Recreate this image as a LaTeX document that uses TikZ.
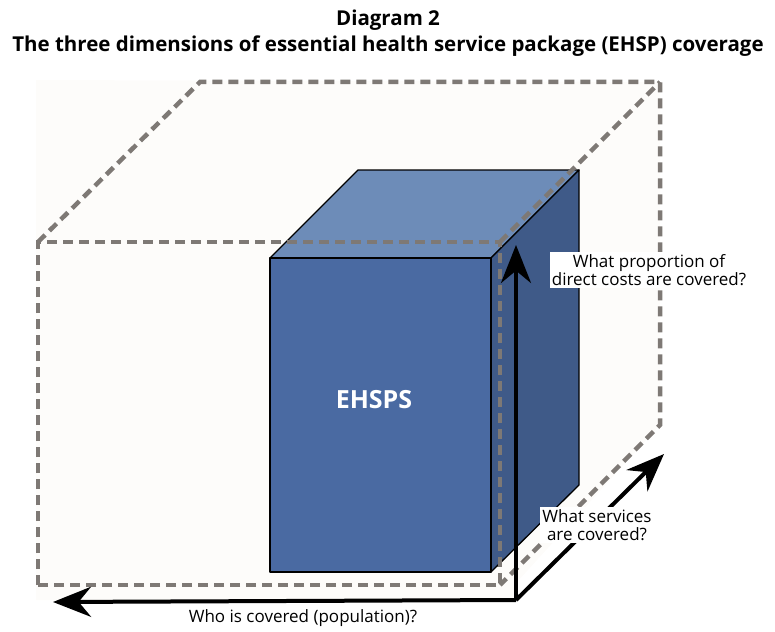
\documentclass[tikz,border=0pt]{standalone}
\usepackage{fontspec}
\setmainfont{Open Sans}
\usetikzlibrary{arrows.meta}

\definecolor{boxfront}{HTML}{4A6AA2}
\definecolor{boxtop}{HTML}{6D8CB8}
\definecolor{boxside}{HTML}{3F5A88}
\definecolor{dashgray}{HTML}{7E7975}
\definecolor{paper}{HTML}{FDFCFA}

\begin{document}
\begin{tikzpicture}[x = 1pt, y = -1pt, > = {Stealth[length = 38pt, width = 30pt]},
	hull/.style = {draw = dashgray, line width = 4.5pt, dash pattern = on 10pt off 6pt},
	block/.style = {draw = black, line width = 1.3pt, line join = round},
	dimaxis/.style = {->, line width = 4pt},
	question/.style = {fill = white, align = center, inner sep = 2pt, font = \fontsize{17}{18.5}\selectfont}]

	\useasboundingbox (0, 0) rectangle (775, 631);

	% Titles

	\node [font = \bfseries\fontsize{20.5}{22}\selectfont] (title) at (388, 20) {Diagram 2};
	\node [font = \bfseries\fontsize{20.5}{22}\selectfont] (subtitle) at (388, 46)
		{The three dimensions of essential health service package (EHSP) coverage};

	% Corners of the coverage cube (front face, then back face)

	\coordinate (fa) at (38, 242);
	\coordinate (fb) at (500, 242);
	\coordinate (fc) at (500, 585);
	\coordinate (fd) at (38, 585);
	\coordinate (ba) at (200, 82);
	\coordinate (bb) at (660, 82);
	\coordinate (bc) at (660, 425);

	\fill [paper] (36, 80) -- (bb) -- (bc) -- (517, 582) -- (517, 600) -- (36, 600) -- cycle;

	% EHSPS block

	\coordinate (ea) at (270, 258);
	\coordinate (eb) at (491, 258);
	\coordinate (ec) at (491, 572);
	\coordinate (ed) at (270, 572);
	\coordinate (ta) at (358, 170);
	\coordinate (tb) at (579, 170);
	\coordinate (tc) at (579, 485);

	\draw [block, fill = boxtop] (ea) -- (ta) -- (tb) -- (eb) -- cycle;
	\draw [block, fill = boxside] (eb) -- (tb) -- (tc) -- (ec) -- cycle;
	\draw [block, fill = boxfront] (ea) rectangle (ec);
	\node [text = white, font = \bfseries\fontsize{25}{27}\selectfont] (ehsps) at (374, 400) {EHSPS};

	% Dashed edges of the cube

	\draw [hull] (fd) -- (fa) -- (fb) -- (fc) -- cycle;
	\draw [hull] (fa) -- (ba) -- (bb) -- (bc) -- (fc);
	\draw [hull] (fb) -- (bb);

	% Dimension axes

	\coordinate (origin) at (516, 600);
	\coordinate (popEnd) at (53, 602);
	\coordinate (costEnd) at (516, 245);
	\coordinate (servEnd) at (664, 454);

	\draw [dimaxis] (origin) -- (popEnd);
	\draw [dimaxis] (origin) -- (costEnd);
	\draw [dimaxis] (origin) -- (servEnd);

	% Questions

	\node [question] (cost) at (649, 270) {What proportion of\\direct costs are covered?};
	\node [question] (serv) at (597, 525) {What services\\are covered?};
	\node [font = \fontsize{17}{18.5}\selectfont] (pop) at (303, 618) {Who is covered (population)?};

\end{tikzpicture}
\end{document}
